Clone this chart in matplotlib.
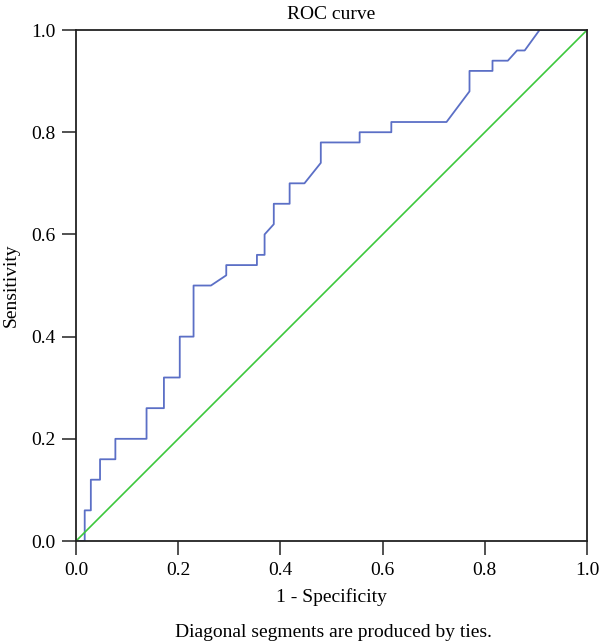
import matplotlib
matplotlib.use("Agg")
import matplotlib.pyplot as plt

# ROC curve vertices
fpr = [0.0, 0.017, 0.017, 0.029, 0.029, 0.047, 0.047, 0.077, 0.077, 0.138,
       0.138, 0.172, 0.172, 0.203, 0.203, 0.230, 0.230, 0.264, 0.294, 0.294,
       0.354, 0.354, 0.369, 0.369, 0.387, 0.387, 0.418, 0.418, 0.447, 0.479,
       0.479, 0.555, 0.555, 0.617, 0.617, 0.725, 0.770, 0.770, 0.815, 0.815,
       0.845, 0.863, 0.878, 0.907, 1.0]
tpr = [0.0, 0.0, 0.06, 0.06, 0.12, 0.12, 0.16, 0.16, 0.20, 0.20,
       0.26, 0.26, 0.32, 0.32, 0.40, 0.40, 0.50, 0.50, 0.52, 0.54,
       0.54, 0.56, 0.56, 0.60, 0.62, 0.66, 0.66, 0.70, 0.70, 0.74,
       0.78, 0.78, 0.80, 0.80, 0.82, 0.82, 0.88, 0.92, 0.92, 0.94,
       0.94, 0.96, 0.96, 1.0, 1.0]
ref_line = [0.0, 1.0]
ticks = [0.0, 0.2, 0.4, 0.6, 0.8, 1.0]
tick_labels = ["0.0", "0.2", "0.4", "0.6", "0.8", "1.0"]

plt.rcParams["font.family"] = ["Liberation Serif", "DejaVu Serif"]
FS = 14

fig = plt.figure(figsize=(6.0, 6.43), dpi=100)
ax = fig.add_axes([0.1267, 0.1586, 0.8517, 0.7947])

ax.plot(fpr, tpr, color="#5b6fc6", lw=1.3)
ax.plot(ref_line, ref_line, color="#3cc83c", lw=1.2)

ax.set_xlim(0, 1)
ax.set_ylim(0, 1)
ax.set_xticks(ticks)
ax.set_xticklabels(tick_labels, fontsize=FS)
ax.set_yticks(ticks)
ax.set_yticklabels(tick_labels, fontsize=FS)
ax.tick_params(direction="out", length=10, width=1.1, color="#222222",
               top=False, right=False, pad=5)
for sp in ax.spines.values():
    sp.set_linewidth(1.3)
    sp.set_color("#222222")

ax.set_title("ROC curve", fontsize=FS, pad=8)
ax.set_xlabel("1 - Specificity", fontsize=FS, labelpad=7)
ax.set_ylabel("Sensitivity", fontsize=FS, labelpad=8)
fig.text(0.555, 0.003, "Diagonal segments are produced by ties.",
         ha="center", va="bottom", fontsize=FS)

fig.savefig("out.png", dpi=100)
